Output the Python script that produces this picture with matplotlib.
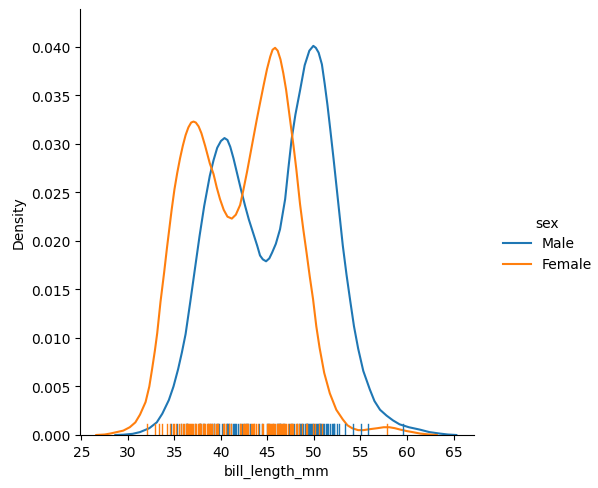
import matplotlib
matplotlib.use("Agg")
import matplotlib.pyplot as plt
from matplotlib.lines import Line2D

BLUE = "#1f77b4"
ORANGE = "#ff7f0e"

# density curves (bill length in mm, density)
male_x = [28.65, 29.5, 30.5, 31.3, 32.3, 33.1, 33.7, 34.4, 34.9, 35.4, 35.8,
          36.2, 36.7, 37.2, 37.7, 38.2, 38.8, 39.2, 39.6, 40.0, 40.38, 40.7,
          41.0, 41.35, 41.7, 42.15, 42.6, 43.0, 43.5, 43.9, 44.2, 44.5, 44.85,
          45.2, 45.5, 45.9, 46.35, 46.9, 47.25, 47.6, 48.0, 48.5, 49.0, 49.5,
          49.93, 50.2, 50.5, 50.85, 51.15, 51.45, 51.75, 52.1, 52.6, 53.1,
          53.5, 53.9, 54.3, 54.75, 55.3, 56.0, 56.5, 57.1, 57.8, 58.5, 59.2,
          60.2, 61.4, 62.4, 63.5, 64.4, 65.3]
male_y = [0.0, 0.00003, 0.00012, 0.0003, 0.0007, 0.0013, 0.0022, 0.0036,
          0.0050, 0.0068, 0.0085, 0.0104, 0.0137, 0.0171, 0.0205, 0.0236,
          0.0267, 0.0283, 0.0296, 0.0303, 0.0306, 0.0304, 0.0297, 0.0285,
          0.0271, 0.0253, 0.0236, 0.0222, 0.0207, 0.0195, 0.0185, 0.0181,
          0.0179, 0.0182, 0.0188, 0.0197, 0.0212, 0.0243, 0.0275, 0.0305,
          0.0330, 0.0355, 0.0381, 0.0396, 0.0401, 0.0399, 0.0394, 0.0382,
          0.0362, 0.0340, 0.0315, 0.0285, 0.0240, 0.0195, 0.0165, 0.0138,
          0.0112, 0.0089, 0.0066, 0.0047, 0.0035, 0.0026, 0.0020, 0.0015,
          0.0011, 0.0008, 0.00055, 0.0003, 0.00015, 0.00005, 0.0]

female_x = [26.6, 27.5, 28.1, 28.8, 29.5, 30.2, 30.8, 31.3, 31.9, 32.3, 32.6,
            32.9, 33.15, 33.5, 33.9, 34.2, 34.7, 35.0, 35.3, 35.6, 35.9, 36.2,
            36.5, 36.8, 37.05, 37.3, 37.6, 37.9, 38.3, 38.8, 39.2, 39.55, 39.9,
            40.3, 40.7, 41.17, 41.6, 42.06, 42.4, 42.8, 43.15, 43.5, 43.85,
            44.2, 44.6, 44.95, 45.3, 45.55, 45.82, 46.1, 46.4, 46.7, 47.0,
            47.25, 47.55, 47.8, 48.1, 48.5, 48.85, 49.2, 49.55, 49.9, 50.25,
            50.6, 51.1, 51.7, 52.4, 53.1, 53.6, 54.1, 54.75, 55.3, 56.0, 56.8,
            57.5, 58.1, 58.7, 59.3, 60.0, 60.7, 61.4, 62.2, 63.2]
female_y = [0.0, 0.00005, 0.00015, 0.0003, 0.00045, 0.0008, 0.0013, 0.0021,
            0.0034, 0.0050, 0.0068, 0.0087, 0.0105, 0.0137, 0.0168, 0.0193,
            0.0232, 0.0253, 0.0270, 0.0285, 0.0298, 0.0309, 0.0317, 0.0322,
            0.0323, 0.0322, 0.0318, 0.0311, 0.0298, 0.0280, 0.0269, 0.0255,
            0.0243, 0.0232, 0.0225, 0.0223, 0.0227, 0.0237, 0.0252, 0.0271,
            0.0289, 0.0307, 0.0325, 0.0342, 0.0361, 0.0377, 0.0390, 0.0397,
            0.0399, 0.0396, 0.0387, 0.0373, 0.0356, 0.0338, 0.0316, 0.0298,
            0.0274, 0.0238, 0.0212, 0.0188, 0.0163, 0.0140, 0.0112, 0.0090,
            0.0064, 0.0043, 0.0026, 0.0016, 0.0010, 0.0007, 0.0005, 0.0005,
            0.0006, 0.0007, 0.0008, 0.0008, 0.0007, 0.00055, 0.0004, 0.00028,
            0.00015, 0.00007, 0.0]

# rug positions (individual observations)
male_rug = [34.6, 35.3, 35.7, 36.2, 36.3, 36.4, 37.2, 37.6, 37.7, 37.8, 38.1,
            38.2, 38.6, 38.8, 39.0, 39.2, 39.3, 39.6, 39.7, 39.8, 40.1, 40.3,
            40.6, 40.7, 40.8, 40.9, 41.1, 41.3, 41.4, 41.5, 41.6, 41.8, 42.1,
            42.3, 42.5, 42.7, 42.8, 42.9, 43.1, 44.1, 44.4, 45.0, 45.1, 45.2,
            45.6, 46.0, 46.1, 46.2, 46.3, 46.4, 46.7, 46.8, 47.3, 47.5, 47.6,
            47.8, 48.2, 48.4, 48.5, 48.6, 48.7, 48.8, 49.0, 49.1, 49.2, 49.3,
            49.4, 49.5, 49.6, 49.7, 49.8, 49.9, 50.0, 50.2, 50.3, 50.4, 50.5,
            50.6, 50.7, 50.8, 51.0, 51.1, 51.3, 51.4, 51.5, 51.7, 51.9, 52.0,
            52.1, 52.2, 52.5, 52.7, 53.3, 54.2, 55.1, 55.8, 59.6]
female_rug = [32.1, 32.9, 33.3, 33.7, 34.2, 34.5, 34.8, 35.0, 35.2, 35.5,
              35.7, 35.9, 36.0, 36.2, 36.4, 36.5, 36.6, 36.7, 36.8, 36.9, 37.0,
              37.2, 37.3, 37.5, 37.6, 37.7, 37.8, 37.9, 38.1, 38.2, 38.3, 38.5,
              38.6, 38.7, 38.8, 38.9, 39.0, 39.2, 39.5, 39.6, 39.7, 40.2, 40.3,
              40.5, 40.9, 41.1, 42.0, 42.2, 42.4, 42.5, 42.6, 42.7, 42.8, 42.9,
              43.2, 43.3, 43.4, 43.5, 43.6, 43.8, 44.0, 44.4, 44.5, 44.9, 45.1,
              45.2, 45.3, 45.4, 45.5, 45.6, 45.7, 45.8, 46.0, 46.1, 46.2, 46.4,
              46.5, 46.6, 46.7, 46.8, 46.9, 47.0, 47.2, 47.4, 47.5, 47.6, 47.7,
              48.1, 48.2, 48.4, 48.7, 49.1, 49.3, 49.9, 50.1, 50.5, 50.9, 57.9]

fig = plt.figure(figsize=(5.98, 4.89), dpi=100)
ax = fig.add_axes([80 / 598, 53 / 489, 394 / 598, 426 / 489])

ax.plot(male_x, male_y, color=BLUE, lw=1.5)
ax.plot(female_x, female_y, color=ORANGE, lw=1.5)

# rug ticks: x in data coords, y in axes fraction
trans = ax.get_xaxis_transform()
for v in male_rug:
    ax.plot([v, v], [0, 0.025], color=BLUE, lw=1, transform=trans)
for v in female_rug:
    ax.plot([v, v], [0, 0.025], color=ORANGE, lw=1, transform=trans)

ax.set_xlim(24.85, 67.2)
ax.set_ylim(0, 0.0439)
ax.set_xticks([25, 30, 35, 40, 45, 50, 55, 60, 65])
ax.set_yticks([0.0, 0.005, 0.010, 0.015, 0.020, 0.025, 0.030, 0.035, 0.040])
ax.set_yticklabels(["0.000", "0.005", "0.010", "0.015", "0.020",
                    "0.025", "0.030", "0.035", "0.040"])
ax.set_xlabel("bill_length_mm")
ax.set_ylabel("Density")
ax.spines["top"].set_visible(False)
ax.spines["right"].set_visible(False)

handles = [Line2D([], [], color=BLUE, lw=1.5),
           Line2D([], [], color=ORANGE, lw=1.5)]
fig.legend(handles, ["Male", "Female"], title="sex", frameon=False,
           loc="center left", bbox_to_anchor=(0.82, 0.5))

fig.savefig("out.png", dpi=100)
